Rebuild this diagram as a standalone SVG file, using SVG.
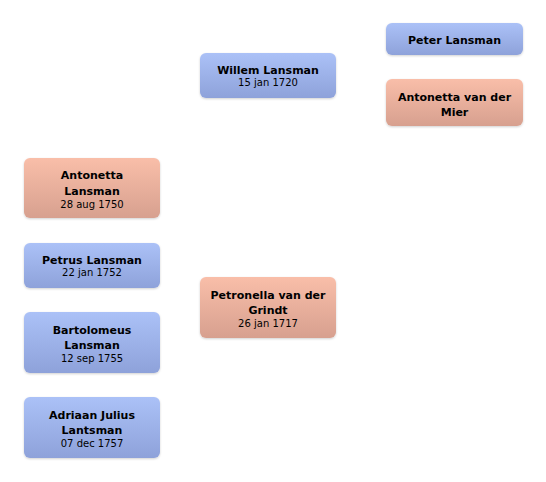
<svg xmlns="http://www.w3.org/2000/svg" width="546" height="482" viewBox="0 0 546 482">
<defs>
<linearGradient id="gm" x1="0" y1="0" x2="0" y2="1"><stop offset="0" stop-color="#abc1f7"/><stop offset="1" stop-color="#8ea2da"/></linearGradient>
<linearGradient id="gf" x1="0" y1="0" x2="0" y2="1"><stop offset="0" stop-color="#f9bea9"/><stop offset="1" stop-color="#d7a08f"/></linearGradient>
<filter id="sh" x="-10%" y="-10%" width="120%" height="130%"><feDropShadow dx="0" dy="1" stdDeviation="1" flood-color="#000" flood-opacity="0.18"/></filter>
</defs>
<style>
rect{filter:url(#sh)}
.m{fill:url(#gm)}
.f{fill:url(#gf)}
text{font-family:"DejaVu Sans",Verdana,sans-serif;text-anchor:middle;fill:#000}
.n{font-size:11px;font-weight:bold}
.d{font-size:10px}
</style>
<rect width="546" height="482" fill="#fff" style="filter:none"/>
<g id="connectors"></g>
<g id="peter"><rect class="m" x="386" y="23" width="137" height="32" rx="6"/><text class="n" x="454.5" y="43.5">Peter Lansman</text></g>
<g id="antonetta-mier"><rect class="f" x="386" y="79" width="137" height="47" rx="6"/><text class="n" x="454.5" y="100.5">Antonetta van der</text><text class="n" x="454.5" y="115.5">Mier</text></g>
<g id="willem"><rect class="m" x="200" y="53" width="136" height="45" rx="6"/><text class="n" x="268" y="73.5">Willem Lansman</text><text class="d" x="268" y="85.5">15 jan 1720</text></g>
<g id="petronella"><rect class="f" x="200" y="277" width="136" height="61" rx="6"/><text class="n" x="268" y="298.5">Petronella van der</text><text class="n" x="268" y="314">Grindt</text><text class="d" x="268" y="327">26 jan 1717</text></g>
<g id="antonetta-lansman"><rect class="f" x="24" y="158" width="136" height="60" rx="6"/><text class="n" x="92" y="179">Antonetta</text><text class="n" x="92" y="194.5">Lansman</text><text class="d" x="92" y="207.5">28 aug 1750</text></g>
<g id="petrus"><rect class="m" x="24" y="243" width="136" height="45" rx="6"/><text class="n" x="92" y="263.5">Petrus Lansman</text><text class="d" x="92" y="275.5">22 jan 1752</text></g>
<g id="bartolomeus"><rect class="m" x="24" y="312" width="136" height="61" rx="6"/><text class="n" x="92" y="333.5">Bartolomeus</text><text class="n" x="92" y="349">Lansman</text><text class="d" x="92" y="362">12 sep 1755</text></g>
<g id="adriaan"><rect class="m" x="24" y="397" width="136" height="61" rx="6"/><text class="n" x="92" y="418.5">Adriaan Julius</text><text class="n" x="92" y="434">Lantsman</text><text class="d" x="92" y="447">07 dec 1757</text></g>
</svg>
